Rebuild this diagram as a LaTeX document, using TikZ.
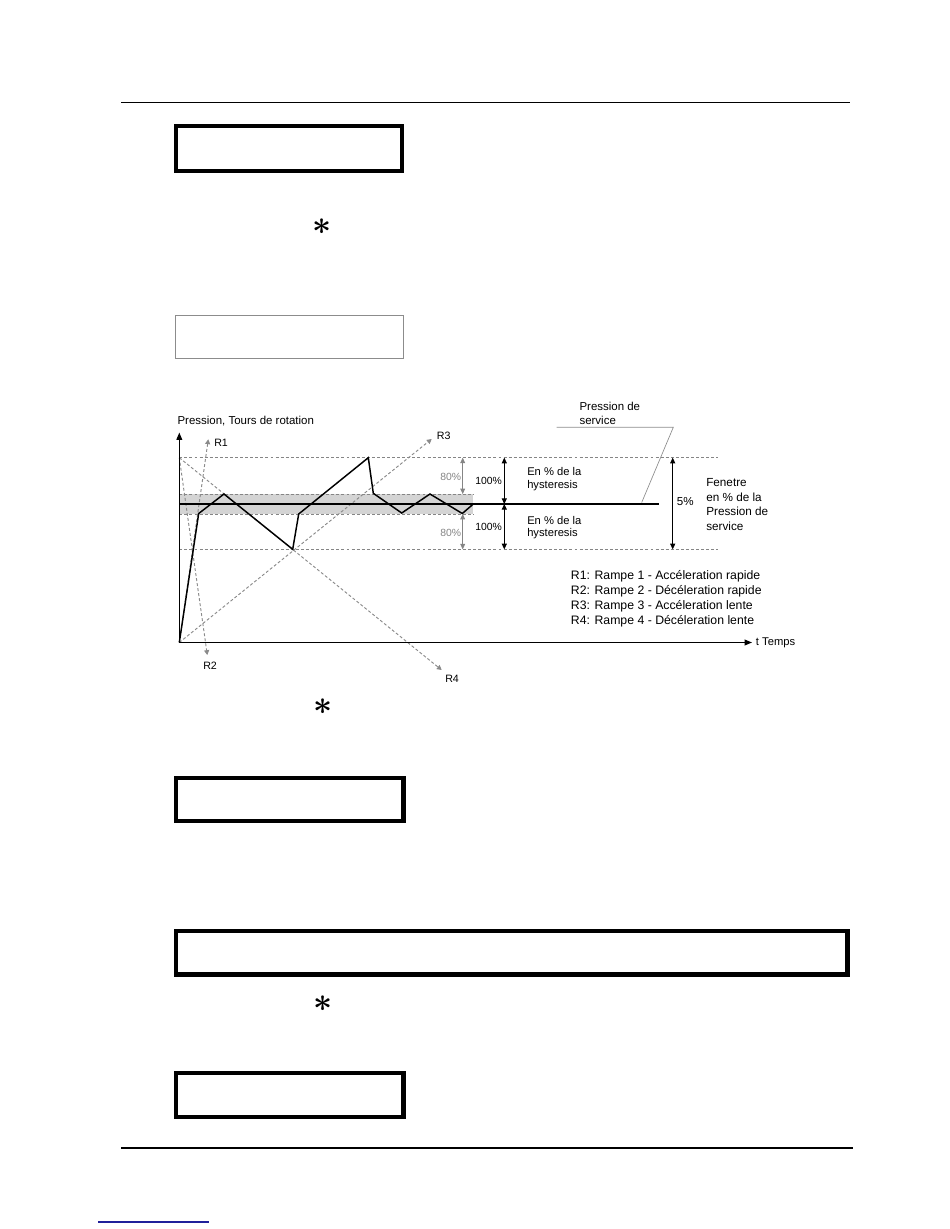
\documentclass[tikz,border=0pt]{standalone}
\usepackage{fontspec}
\setmainfont{Liberation Sans}
\usetikzlibrary{arrows.meta}
\definecolor{dashgray}{HTML}{858585}
\definecolor{raygray}{HTML}{8A8A8A}
\definecolor{bandgray}{HTML}{D4D4D4}
\definecolor{linkblue}{HTML}{20209A}
\definecolor{thingray}{HTML}{8C8C8C}
\begin{document}
\begin{tikzpicture}[x=0.75pt,y=-0.75pt,
  pagerule/.style={line width=1.1pt},
  boxthick/.style={line width=3.1pt},
  boxthin/.style={line width=1.1pt, draw=thingray},
  asterisk/.style={inner sep=0pt, font=\Huge\boldmath},
  axisline/.style={line width=0.9pt, -{Triangle[length=5.5pt,width=4.3pt]}},
  hdash/.style={line width=0.7pt, draw=dashgray, dash pattern=on 2.2pt off 1.6pt},
  ray/.style={line width=0.7pt, draw=raygray, dash pattern=on 2.2pt off 1.6pt, -{Triangle[length=3.6pt,width=3.8pt,fill=raygray]}},
  serviceline/.style={line width=2.2pt},
  profile/.style={line width=1.1pt, line join=miter},
  garrow/.style={line width=0.6pt, draw=dashgray, {Triangle[length=4pt,width=3.6pt]}-{Triangle[length=4pt,width=3.6pt]}},
  karrow/.style={line width=0.6pt, {Triangle[length=4.2pt,width=3.8pt]}-{Triangle[length=4.2pt,width=3.8pt]}},
  leader/.style={line width=0.5pt, draw=thingray},
  txt/.style={inner sep=0pt, anchor=base west, font=\fontsize{#1}{#1}\selectfont},
  txtr/.style={inner sep=0pt, anchor=base east, font=\fontsize{#1}{#1}\selectfont},
]
\useasboundingbox (0,0) rectangle (950,1229);

% page rules and boxes
\draw[pagerule] (121,102.7) -- (850,102.7);
\draw[line width=1.5pt] (121,1147.6) -- (853,1147.6);
\draw[line width=1.1pt, draw=linkblue] (98.3,1222) -- (209,1222);

\draw[boxthick] (176.3,126.3) rectangle (402.3,170.8);
\draw[boxthin] (175.3,315.7) rectangle (403.3,358.7);
\draw[boxthick] (176.3,777.7) rectangle (403.5,820.7);
\draw[boxthick] (176.3,931) rectangle (847.5,974.5);
\draw[boxthick] (176.3,1073) rectangle (403.5,1117);

\node[asterisk] (ast1) at (322,227) {$\ast$};
\node[asterisk] (ast2) at (323,707) {$\ast$};
\node[asterisk] (ast3) at (323,1004) {$\ast$};

% ---------------- chart ----------------
\coordinate (O) at (179.3,642.5);
\coordinate (Ytip) at (179.3,432.5);
\coordinate (Xtip) at (752,642.5);
\coordinate (TL) at (179.3,457.7);
\coordinate (TR) at (718,457.7);
\coordinate (BL) at (179.3,549.3);
\coordinate (BR) at (718,549.3);
\coordinate (BTL) at (179.3,494);
\coordinate (BTR) at (473.3,494);
\coordinate (BBL) at (179.3,514);
\coordinate (BBR) at (473.3,514);
\coordinate (S0) at (179.3,504);
\coordinate (S1) at (659,504);

% band
\fill[bandgray] (BTL) rectangle (BBR);
\draw[hdash] (BTL) -- (BTR);
\draw[hdash] (BBL) -- (BBR);
\draw[hdash] (TL) -- (TR);
\draw[hdash] (BL) -- (BR);

% ramps
\coordinate (R1tip) at (208.3,439.3);
\coordinate (R2tip) at (207.3,655);
\coordinate (R3tip) at (431.7,439);
\coordinate (R4tip) at (441.7,670);
\draw[ray] (O) -- (R1tip);
\draw[ray] (TL) -- (R2tip);
\draw[ray] (O) -- (R3tip);
\draw[ray] (TL) -- (R4tip);

% axes
\draw[axisline] (O) -- (Ytip);
\draw[axisline] (O) -- (Xtip);

% service pressure line
\draw[serviceline] (S0) -- (S1);

% pressure profile
\coordinate (p0) at (179.3,642.5);
\coordinate (p1) at (198.7,513.5);
\coordinate (p2) at (224,494);
\coordinate (p3) at (292.7,549.3);
\coordinate (p4) at (298.7,514);
\coordinate (p5) at (368.3,457.7);
\coordinate (p6) at (373.3,493.3);
\coordinate (p7) at (401.7,513);
\coordinate (p8) at (430,494);
\coordinate (p9) at (462.3,513.5);
\coordinate (p10) at (473.3,504);
\draw[profile] (p0) -- (p1) -- (p2) -- (p3) -- (p4) -- (p5) -- (p6) -- (p7) -- (p8) -- (p9) -- (p10);

% dimension arrows
\coordinate (g1a) at (462.7,457.7);
\coordinate (g1b) at (462.7,494);
\coordinate (g2a) at (462.7,514);
\coordinate (g2b) at (462.7,549.3);
\draw[garrow] (g1a) -- (g1b);
\draw[garrow] (g2a) -- (g2b);
\coordinate (k1a) at (504.3,457.7);
\coordinate (k1b) at (504.3,504);
\coordinate (k2a) at (504.3,504);
\coordinate (k2b) at (504.3,549.3);
\draw[karrow] (k1a) -- (k1b);
\draw[karrow] (k2a) -- (k2b);
\coordinate (f1) at (672.7,457.7);
\coordinate (f2) at (672.7,549.3);
\draw[karrow] (f1) -- (f2);

% leader for "Pression de service"
\coordinate (l1) at (556.7,427.3);
\coordinate (l2) at (673.3,427.3);
\coordinate (l3) at (641.7,502.5);
\draw[leader] (l1) -- (l2) -- (l3);

% texts
\node[txt=8.6] (ylab) at (177.3,424) {Pression, Tours de rotation};
\node[txt=8] (r1) at (214,446) {R1};
\node[txt=8] (r3) at (436.7,439) {R3};
\node[txt=8] (r2) at (203,669) {R2};
\node[txt=8] (r4) at (445,682) {R4};

\node[txtr=7.8, text=dashgray] (p80a) at (461.5,480) {80\%};
\node[txtr=7.8, text=dashgray] (p80b) at (461.5,536.3) {80\%};
\node[txt=7.8] (p100a) at (475,484) {100\%};
\node[txt=7.8] (p100b) at (475,530.7) {100\%};

\node[txt=8.4] (h1a) at (527,475) {En \% de la};
\node[txt=8.4] (h1b) at (527,488.3) {hysteresis};
\node[txt=8.4] (h2a) at (527,524) {En \% de la};
\node[txt=8.4] (h2b) at (527,536.7) {hysteresis};

\node[txt=8.7] (p5pc) at (676.7,505) {5\%};
\node[txt=8.8] (fen1) at (706,486.7) {Fenetre};
\node[txt=8.8] (fen2) at (706,501.3) {en \% de la};
\node[txt=8.8] (fen3) at (706,515.7) {Pression de};
\node[txt=8.8] (fen4) at (706,530.7) {service};

\node[txt=8.6] (ps1) at (579.3,410) {Pression de};
\node[txt=8.6] (ps2) at (579.3,424.7) {service};

\node[txt=9.2] (leg1) at (570.7,579.7) {R1: Rampe 1 - Accéleration rapide};
\node[txt=9.2] (leg2) at (570.7,594.7) {R2: Rampe 2 - Décéleration rapide};
\node[txt=9.2] (leg3) at (570.7,609.5) {R3: Rampe 3 - Accéleration lente};
\node[txt=9.2] (leg4) at (570.7,624) {R4: Rampe 4 - Décéleration lente};

\node[txt=8.4] (temps) at (755.7,645) {t Temps};
\end{tikzpicture}
\end{document}
